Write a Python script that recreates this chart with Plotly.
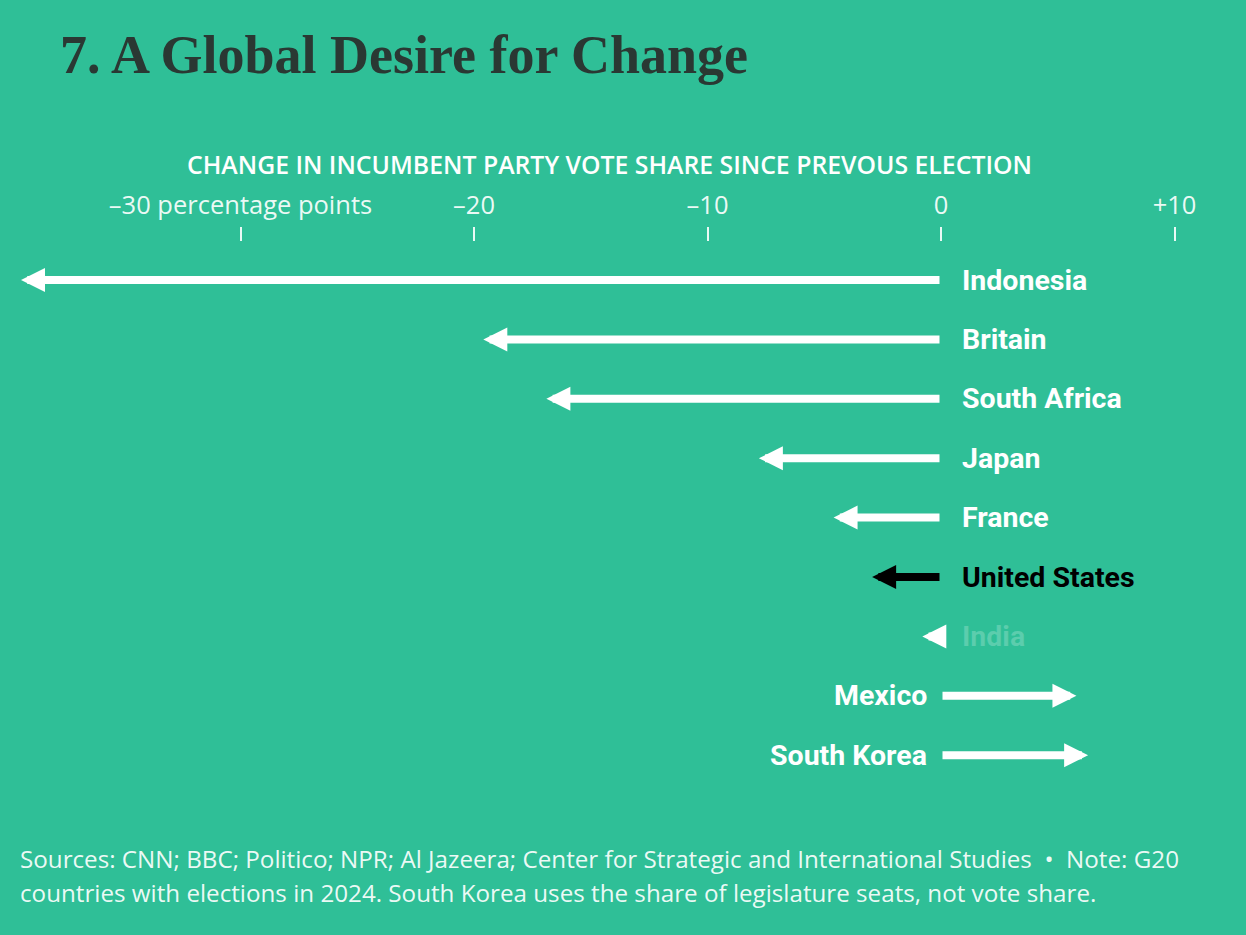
import plotly.graph_objects as go

countries = ["Indonesia", "Britain", "South Africa", "Japan", "France",
             "United States", "India", "Mexico", "South Korea"]
changes = [-39.4, -19.6, -16.9, -7.8, -4.6, -2.95, -0.8, 5.8, 6.3]
tick_vals = [-30, -20, -10, 0, 10]
tick_text = ["\u201330 percentage points", "\u201320", "\u201310", "0", "+10"]

BG = "#2fbf97"
WHITE = "#ffffff"

fig = go.Figure()
fig.add_trace(go.Scatter(x=changes, y=list(range(len(countries))), mode="markers",
                         marker=dict(opacity=0), hoverinfo="skip", showlegend=False))

annotations = []
for i, (c, v) in enumerate(zip(countries, changes)):
    col = "#000000" if c == "United States" else WHITE
    annotations.append(dict(
        x=v, y=i, ax=0, ay=i, xref="x", yref="y", axref="x", ayref="y",
        text="", showarrow=True, arrowhead=2, arrowsize=0.6, arrowwidth=8,
        arrowcolor=col, standoff=0, startstandoff=0))
    lab_col = "rgba(255,255,255,0.22)" if c == "India" else col
    lab_font = dict(family="Roboto", size=28.5, color=lab_col, weight="bold")
    if v < 0:
        annotations.append(dict(x=0, y=i, xref="x", yref="y", text=c, showarrow=False,
                                xanchor="left", xshift=19, font=lab_font))
    else:
        annotations.append(dict(x=0, y=i, xref="x", yref="y", text=c, showarrow=False,
                                xanchor="right", xshift=-12, font=lab_font))

annotations.append(dict(x=58 / 1246, y=1 - 55 / 935, xref="paper", yref="paper",
                        text="7. A Global Desire for Change", showarrow=False,
                        xanchor="left", yanchor="middle",
                        font=dict(family="Liberation Serif", size=54, color="#2a3833", weight="bold")))
annotations.append(dict(x=609 / 1246, y=1 - 164 / 935, xref="paper", yref="paper",
                        text="CHANGE IN INCUMBENT PARTY VOTE SHARE SINCE PREVOUS ELECTION",
                        showarrow=False, xanchor="center", yanchor="middle",
                        font=dict(family="Open Sans", size=24.8, color=WHITE, weight=600)))
foot_font = dict(family="Open Sans", size=24.2, color="rgba(255,255,255,0.92)")
annotations.append(dict(x=18 / 1246, y=1 - 858 / 935, xref="paper", yref="paper",
                        text="Sources: CNN; BBC; Politico; NPR; Al Jazeera; Center for Strategic and International Studies  \u2022  Note: G20",
                        showarrow=False, xanchor="left", yanchor="middle", font=foot_font))
annotations.append(dict(x=18 / 1246, y=1 - 892 / 935, xref="paper", yref="paper",
                        text="countries with elections in 2024. South Korea uses the share of legislature seats, not vote share.",
                        showarrow=False, xanchor="left", yanchor="middle", font=foot_font))

row0 = 280
step = 59.4
y_top = (0 - row0) / step
y_bot = (935 - row0) / step
x0px = 941
unit = 23.35

fig.update_layout(
    width=1246, height=935,
    margin=dict(l=0, r=0, t=0, b=0),
    paper_bgcolor=BG, plot_bgcolor=BG,
    showlegend=False,
    annotations=annotations,
    xaxis=dict(range=[-x0px / unit, (1246 - x0px) / unit], anchor="free",
               position=1 - 241 / 935, side="top",
               tickvals=tick_vals, ticktext=tick_text, ticks="outside", ticklen=14,
               tickwidth=1.5, tickcolor="rgba(255,255,255,0.9)",
               tickfont=dict(family="Open Sans", size=25.5, color="rgba(255,255,255,0.92)"),
               ticklabelstandoff=3,
               showgrid=False, zeroline=False, showline=False, fixedrange=True),
    yaxis=dict(range=[y_bot, y_top], visible=False, showgrid=False, zeroline=False,
               fixedrange=True),
)

fig.write_html("out.html", config={"displayModeBar": False},
               post_script="document.body.style.margin='0';document.body.style.background='%s';" % BG)
